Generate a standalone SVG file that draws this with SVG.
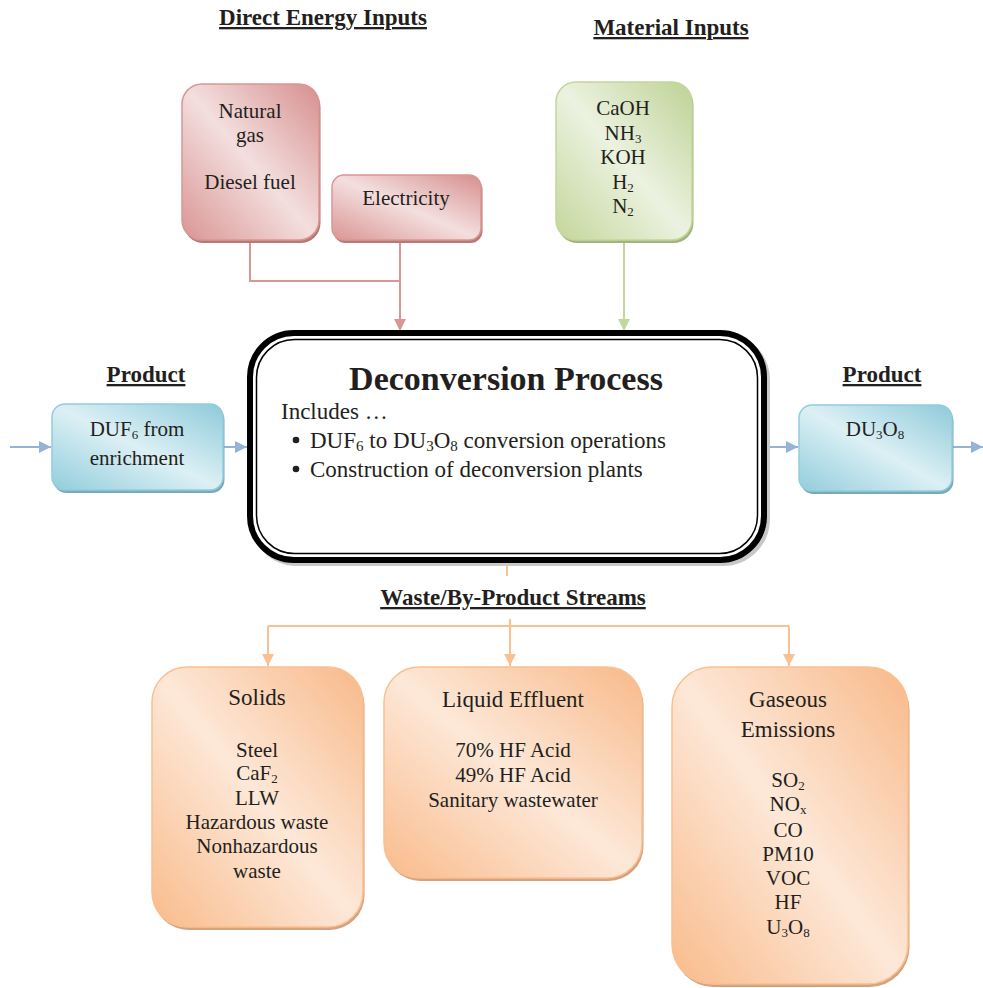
<svg xmlns="http://www.w3.org/2000/svg" width="983" height="988" viewBox="0 0 983 988">
<defs>
<style>
text{font-family:"Liberation Serif","Times New Roman",serif;fill:#231f20;}
.hd{font-weight:bold;font-size:23px;text-decoration:underline;text-anchor:middle;}
.t21{font-size:21px;text-anchor:middle;}
.t23{font-size:23px;text-anchor:middle;}
.sub{font-size:13px;}
.red{fill:url(#gRed);stroke:#d99694;stroke-width:1.5;}
.grn{fill:url(#gGrn);stroke:#c3d69b;stroke-width:1.5;}
.blu{fill:url(#gBlu);stroke:#93cddd;stroke-width:1.5;}
.org{fill:url(#gOrg);stroke:#fac090;stroke-width:1.5;}
.shR{fill:#b77876;}
.shG{fill:#a3b47e;}
.shB{fill:#7aaab8;}
.shO{fill:#d4a27e;}
.cR{fill:none;stroke:#d99694;stroke-width:2;}
.cG{fill:none;stroke:#c3d69b;stroke-width:2;}
.cB{fill:none;stroke:#95b3d7;stroke-width:2;}
.cO{fill:none;stroke:#fac090;stroke-width:2;}
</style>
<linearGradient id="gRed" x1="1" y1="0" x2="0" y2="1">
<stop offset="0" stop-color="#d68f8e"/><stop offset="0.5" stop-color="#f3dfde"/><stop offset="1" stop-color="#d99594"/>
</linearGradient>
<linearGradient id="gGrn" x1="1" y1="0" x2="0" y2="1">
<stop offset="0" stop-color="#bdd295"/><stop offset="0.5" stop-color="#ecf2e0"/><stop offset="1" stop-color="#c3d69b"/>
</linearGradient>
<linearGradient id="gBlu" x1="1" y1="0" x2="0" y2="1">
<stop offset="0" stop-color="#8ecad9"/><stop offset="0.5" stop-color="#dcf0f5"/><stop offset="1" stop-color="#92cddc"/>
</linearGradient>
<linearGradient id="gOrg" x1="1" y1="0" x2="0" y2="1">
<stop offset="0" stop-color="#f8b989"/><stop offset="0.5" stop-color="#fde8d8"/><stop offset="1" stop-color="#f9bb8b"/>
</linearGradient>
<marker id="aR" viewBox="0 0 10 10" refX="10" refY="5" markerWidth="6" markerHeight="6" orient="auto" markerUnits="strokeWidth"><path d="M0,0 L10,5 L0,10 z" fill="#d99694"/></marker>
<marker id="aG" viewBox="0 0 10 10" refX="10" refY="5" markerWidth="6" markerHeight="6" orient="auto" markerUnits="strokeWidth"><path d="M0,0 L10,5 L0,10 z" fill="#c3d69b"/></marker>
<marker id="aB" viewBox="0 0 10 10" refX="10" refY="5" markerWidth="6" markerHeight="6" orient="auto" markerUnits="strokeWidth"><path d="M0,0 L10,5 L0,10 z" fill="#95b3d7"/></marker>
<marker id="aO" viewBox="0 0 10 10" refX="10" refY="5" markerWidth="6" markerHeight="6" orient="auto" markerUnits="strokeWidth"><path d="M0,0 L10,5 L0,10 z" fill="#fac090"/></marker>
</defs>
<rect width="983" height="988" fill="#ffffff"/>

<g id="headings">
<text class="hd" x="323" y="25">Direct Energy Inputs</text>
<text class="hd" x="671" y="35">Material Inputs</text>
<text class="hd" x="146" y="382">Product</text>
<text class="hd" x="882" y="382">Product</text>
<text class="hd" x="513" y="605">Waste/By-Product Streams</text>
</g>

<g id="connectors">
<path class="cR" d="M250,241 V281 H400"/>
<path class="cR" d="M400,242 V331" marker-end="url(#aR)"/>
<path class="cG" d="M624,242 V331" marker-end="url(#aG)"/>
<path class="cB" d="M10,447 H51" marker-end="url(#aB)"/>
<path class="cB" d="M224,447 H247" marker-end="url(#aB)"/>
<path class="cB" d="M768,447 H798" marker-end="url(#aB)"/>
<path class="cB" d="M953,447 H983" marker-end="url(#aB)"/>
<path class="cO" d="M507,564 V576"/>
<path class="cO" d="M268,626 H789"/>
<path class="cO" d="M268,626 V666" marker-end="url(#aO)"/>
<path class="cO" d="M510,619 V666" marker-end="url(#aO)"/>
<path class="cO" d="M789,626 V666" marker-end="url(#aO)"/>
</g>

<g id="node-natural-gas">
<rect class="shR" x="183.5" y="87" width="137" height="156" rx="20"/>
<rect class="red" x="182" y="84" width="137" height="156" rx="20"/>
<text class="t21" x="250" y="118">Natural</text>
<text class="t21" x="250" y="142">gas</text>
<text class="t21" x="250" y="189">Diesel fuel</text>
</g>

<g id="node-electricity">
<rect class="shR" x="333.5" y="178" width="149" height="65" rx="12"/>
<rect class="red" x="332" y="175" width="149" height="65" rx="12"/>
<text class="t21" x="406" y="205">Electricity</text>
</g>

<g id="node-material">
<rect class="shG" x="557.5" y="85" width="136" height="158" rx="20"/>
<rect class="grn" x="556" y="82" width="136" height="158" rx="20"/>
<text class="t21" x="623" y="115">CaOH</text>
<text class="t21" x="623" y="139.5">NH<tspan class="sub" dy="3">3</tspan></text>
<text class="t21" x="623" y="164">KOH</text>
<text class="t21" x="623" y="188.5">H<tspan class="sub" dy="3">2</tspan></text>
<text class="t21" x="623" y="213">N<tspan class="sub" dy="3">2</tspan></text>
</g>

<g id="node-duf6">
<rect class="shB" x="53.5" y="407" width="171" height="86" rx="13"/>
<rect class="blu" x="52" y="404" width="171" height="86" rx="13"/>
<text class="t21" x="137" y="436">DUF<tspan class="sub" dy="3">6</tspan><tspan dy="-3"> from</tspan></text>
<text class="t21" x="137" y="465">enrichment</text>
</g>

<g id="node-du3o8">
<rect class="shB" x="800.5" y="408" width="153" height="86" rx="13"/>
<rect class="blu" x="799" y="405" width="153" height="86" rx="13"/>
<text class="t21" x="875" y="436">DU<tspan class="sub" dy="3">3</tspan><tspan dy="-3">O</tspan><tspan class="sub" dy="3">8</tspan></text>
</g>

<g id="node-process">
<rect x="253" y="336" width="514" height="227" rx="44" fill="none" stroke="#c8c8c8" stroke-width="6"/>
<rect x="250" y="333" width="514" height="227" rx="44" fill="#ffffff" stroke="#000000" stroke-width="6"/>
<rect x="256.5" y="339.5" width="501" height="214" rx="38" fill="none" stroke="#000000" stroke-width="1.5"/>
<text x="506" y="390" text-anchor="middle" font-weight="bold" font-size="34">Deconversion Process</text>
<text x="281" y="419" font-size="23">Includes …</text>
<circle cx="296" cy="440" r="3.3" fill="#231f20"/>
<text x="310" y="448" font-size="23">DUF<tspan font-size="15" dy="3">6</tspan><tspan dy="-3"> to DU</tspan><tspan font-size="15" dy="3">3</tspan><tspan dy="-3">O</tspan><tspan font-size="15" dy="3">8</tspan><tspan dy="-3"> conversion operations</tspan></text>
<circle cx="296" cy="469" r="3.3" fill="#231f20"/>
<text x="310" y="477" font-size="23">Construction of deconversion plants</text>
</g>

<g id="node-solids">
<rect class="shO" x="153.5" y="670" width="211" height="260" rx="35"/>
<rect class="org" x="152" y="667" width="211" height="260" rx="35"/>
<text class="t23" x="257" y="705">Solids</text>
<text class="t21" x="257" y="757">Steel</text>
<text class="t21" x="257" y="780">CaF<tspan class="sub" dy="3">2</tspan></text>
<text class="t21" x="257" y="805">LLW</text>
<text class="t21" x="257" y="829">Hazardous waste</text>
<text class="t21" x="257" y="853">Nonhazardous</text>
<text class="t21" x="257" y="878">waste</text>
</g>

<g id="node-liquid">
<rect class="shO" x="385.5" y="670" width="258" height="211" rx="35"/>
<rect class="org" x="384" y="667" width="258" height="211" rx="35"/>
<text class="t23" x="513" y="707">Liquid Effluent</text>
<text class="t21" x="513" y="757">70% HF Acid</text>
<text class="t21" x="513" y="782">49% HF Acid</text>
<text class="t21" x="513" y="807">Sanitary wastewater</text>
</g>

<g id="node-gaseous">
<rect class="shO" x="673.5" y="670" width="236" height="317" rx="40"/>
<rect class="org" x="672" y="667" width="236" height="317" rx="40"/>
<text class="t23" x="788" y="707">Gaseous</text>
<text class="t23" x="788" y="737">Emissions</text>
<text class="t21" x="788" y="787">SO<tspan class="sub" dy="3">2</tspan></text>
<text class="t21" x="788" y="811">NO<tspan class="sub" dy="3">x</tspan></text>
<text class="t21" x="788" y="837">CO</text>
<text class="t21" x="788" y="861">PM10</text>
<text class="t21" x="788" y="885">VOC</text>
<text class="t21" x="788" y="909">HF</text>
<text class="t21" x="788" y="934">U<tspan class="sub" dy="3">3</tspan><tspan dy="-3">O</tspan><tspan class="sub" dy="3">8</tspan></text>
</g>
</svg>
